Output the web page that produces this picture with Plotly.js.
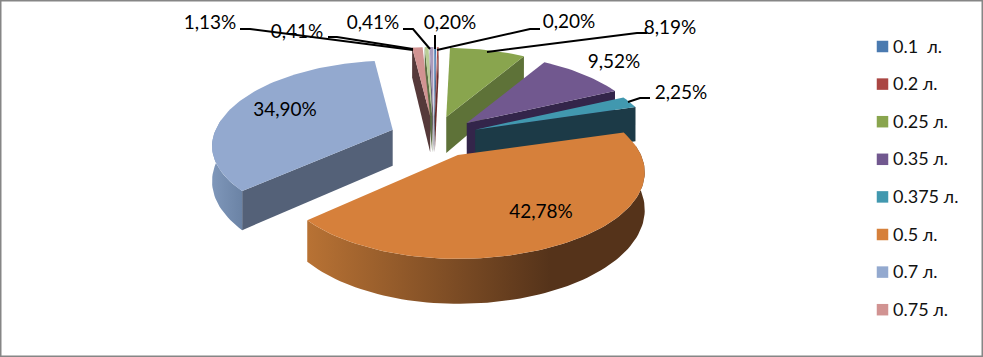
<!DOCTYPE html>
<html><head><meta charset="utf-8">
<script src="https://cdn.plot.ly/plotly-3.0.1.min.js"></script>
<style>html,body{margin:0;padding:0;background:#fff}#c{width:983px;height:357px}</style>
</head><body><div id="c"></div>
<script>
const categories = ["0.1\u00a0\u00a0л.","0.2 л.","0.25 л.","0.35 л.","0.375 л.","0.5 л.","0.7 л.","0.75 л.","","" ];
const shares = [0.20,0.20,8.19,9.52,2.25,42.78,34.90,1.13,0.41,0.41];
const topColors = ["#4a7ab0","#aa4643","#89a54e","#71588f","#4198af","#d6803b","#93a9cf","#d19392","#b9cd96","#a99bbd"];
const sideColors = ["#2c4a6e","#682a28","#5e7238","#33254a","#1c3a47","#55331a","#546178","#55393a","#5e6f45","#6a5f78"];
const rightStretch = [1,1,1,1,1,1.035,1,1,1,1];
const frontStretch = [1,1,1,1,1,1,0.94,1,1,1];
const pullNudge = [0,0,0,0,0,2,0,0,0,0];
const labelX = [450,569,670,614,681,541,285,210,297,373];
const labelY = [24,23,29,63,94,213,111,24,33,24];
const drawOrder = [9,8,7,0,1,2,3,4,6,5];
const legendCount = 8;

// projection of the tilted pie
const C = {x:434,y:137}, PULL = {x:44,y:20.8}, R = {x:177,y:83}, K = 0.2, H = 36, F = "Lato, 'Open Sans', sans-serif";
const persp = c => 1/(1+K*c);
const rim = (a,t,extra,i) => { const c=Math.cos(t), f=persp(c), sn=Math.sin(t);
  const wallH = H*f*(i===6?0.94:1);
  return {x:a.x+R.x*f*sn*(sn>0?rightStretch[i]:1), y:a.y-R.y*f*c*(c<0?frontStretch[i]:1)+wallH*extra}; };
const total = shares.reduce((s,v)=>s+v,0);
let cum=0; const slices = shares.map((v,i)=>{const t1=cum/total*2*Math.PI; cum+=v; const t2=cum/total*2*Math.PI; const m=(t1+t2)/2;
  return {t1,t2,m,apex:{x:C.x+PULL.x*Math.sin(m)+pullNudge[i],y:C.y-PULL.y*Math.cos(m)}};});
const poly=(pts,color,grad)=>{const tr={type:'scatter',mode:'lines',x:pts.map(p=>p.x).concat(pts[0].x),y:pts.map(p=>p.y).concat(pts[0].y),fill:'toself',fillcolor:color,line:{width:0,color:color},hoverinfo:'skip',showlegend:false}; if(grad) tr.fillgradient=grad; return tr;};
const traces=[];
drawOrder.forEach(i=>{
  const s=slices[i],n=Math.max(3,Math.ceil((s.t2-s.t1)/0.03));
  const A=s.apex, Ab={x:A.x,y:A.y+H};
  const arc=[];for(let j=0;j<=n;j++){arc.push(s.t1+(s.t2-s.t1)*j/n);}
  const mid=rim(A,s.m,0,i);
  [s.t1,s.t2].forEach(t=>{
    const B=rim(A,t,0,i);
    const yOnEdge=A.y+(B.y-A.y)*(mid.x-A.x)/((B.x-A.x)||1e-6);
    if(mid.y<yOnEdge && Math.abs(B.x-A.x)>1){ traces.push(poly([A,B,rim(A,t,1,i),Ab],sideColors[i])); }
  });
  const front=arc.filter(t=>Math.cos(t)<0.12);
  if(front.length>1){
    const w=front.map(t=>rim(A,t,0,i)).concat(front.slice().reverse().map(t=>rim(A,t,1,i)));
    let g=null;
    if(i===5) g={type:'horizontal',colorscale:[[0,'#b87234'],[0.72,'#55331a'],[1,'#55331a']]};
    if(i===6) g={type:'horizontal',colorscale:[[0,'#7f97ba'],[1,'#6b83a5']]};
    traces.push(poly(w,sideColors[i],g));
  }
  traces.push(poly([A].concat(arc.map(t=>rim(A,t,0,i))),topColors[i]));
});
// data labels
traces.push({type:'scatter',mode:'text',x:labelX,y:labelY,text:shares.map(v=>v.toFixed(2).replace('.',',')+'%'),textposition:'middle center',textfont:{family:F,size:19,color:'#000'},hoverinfo:'skip',showlegend:false});
// legend
const legendIdx=categories.slice(0,legendCount).map((_,i)=>i);
traces.push({type:'scatter',mode:'markers',x:legendIdx.map(()=>882.5),y:legendIdx.map(i=>46.5+37.6*i),marker:{symbol:'square',size:11.5,color:legendIdx.map(i=>topColors[i]),line:{width:0}},hoverinfo:'skip',showlegend:false});
traces.push({type:'scatter',mode:'text',x:legendIdx.map(()=>893),y:legendIdx.map(i=>48+37.6*i),text:categories.slice(0,legendCount),textposition:'middle right',textfont:{family:F,size:18,color:'#111'},hoverinfo:'skip',showlegend:false});
const leader=(pts)=>({type:'path',path:'M'+pts.map(p=>p.join(',')).join('L'),line:{color:'#000',width:2},layer:'above'});
const shapes=[
 leader([[540,29],[530,29],[437,50]]),
 leader([[647,33],[637,33],[487,52]]),
 leader([[435,35],[435,49]]),
 leader([[403,29],[413,29],[430,49]]),
 leader([[328,37],[337,37],[413,49]]),
 leader([[240,29],[250,29],[413,50]]),
 leader([[650,98],[640,98],[628,102]]),
 {type:'rect',xref:'paper',yref:'paper',x0:0,x1:1,y0:0,y1:1,line:{color:'#868686',width:3},fillcolor:'rgba(0,0,0,0)',layer:'above'}
];
Plotly.newPlot('c',traces,{width:983,height:357,margin:{l:0,r:0,t:0,b:0},paper_bgcolor:'#fff',plot_bgcolor:'#fff',
 xaxis:{range:[0,983],visible:false,fixedrange:true},yaxis:{range:[357,0],visible:false,fixedrange:true},shapes,showlegend:false},{staticPlot:true});
</script></body></html>
